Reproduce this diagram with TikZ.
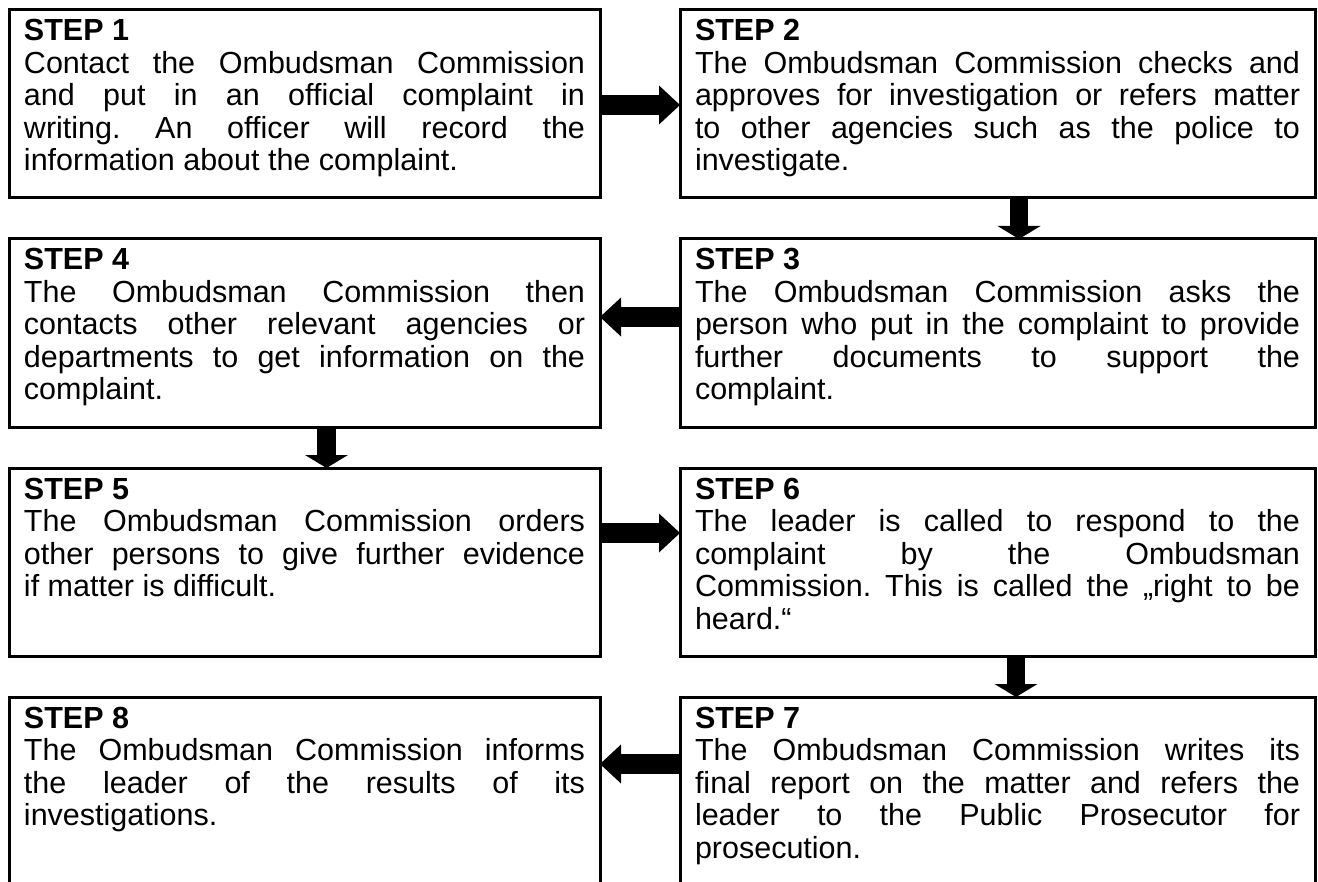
\documentclass[tikz,border=0pt]{standalone}
\usepackage{fontspec}
\setmainfont{Liberation Sans}
\usetikzlibrary{arrows.meta,positioning}
\tolerance=10000
\hyphenpenalty=10000
\hbadness=10000
\frenchspacing
\tikzset{
  stepbox/.style={draw=black,line width=1.2pt,outer sep=0pt,inner xsep=6pt,inner ysep=0pt,
    align=justify,text height=12.4pt,text depth=62.8pt,
    font=\fontsize{12.2pt}{13pt}\selectfont\frenchspacing},
  leftcol/.style={stepbox,text width=224.4pt},
  rightcol/.style={stepbox,text width=242pt},
  harrow/.style={-{Triangle[length=8.4pt,width=15.6pt,line width=0pt]},line width=8pt},
  varrow/.style={-{Triangle[length=5.2pt,width=17.2pt,line width=0pt]},line width=7.4pt}
}

\begin{document}
\begin{tikzpicture}
  \path[use as bounding box,clip] (0,0) rectangle (527.2pt,-352.8pt);

  \node[leftcol,anchor=north west] (s1) at (3.6pt,-4pt)
    {\textbf{STEP 1}\\Contact the Ombudsman Commission\linebreak and put in an official complaint in\linebreak writing. An officer will record the\linebreak information about the complaint.};
  \node[rightcol,right=32pt of s1.north east,anchor=north west] (s2)
    {\textbf{STEP 2}\\The Ombudsman Commission checks and\linebreak approves for investigation or refers matter\linebreak to other agencies such as the police to\linebreak investigate.};
  \node[rightcol,below=16.4pt of s2] (s3)
    {\textbf{STEP 3}\\The Ombudsman Commission asks the\linebreak person who put in the complaint to provide\linebreak further documents to support the\linebreak complaint.};
  \node[leftcol,below=16.4pt of s1] (s4)
    {\textbf{STEP 4}\\The Ombudsman Commission then\linebreak contacts other relevant agencies or\linebreak departments to get information on the\linebreak complaint.};
  \node[leftcol,below=16.4pt of s4] (s5)
    {\textbf{STEP 5}\\The Ombudsman Commission orders\linebreak other persons to give further evidence\linebreak if matter is difficult.};
  \node[rightcol,below=16.4pt of s3] (s6)
    {\textbf{STEP 6}\\The leader is called to respond to the\linebreak complaint by the Ombudsman\linebreak Commission. This is called the „right to be\linebreak heard.“};
  \node[rightcol,below=16.4pt of s6] (s7)
    {\textbf{STEP 7}\\The Ombudsman Commission writes its\linebreak final report on the matter and refers the\linebreak leader to the Public Prosecutor for\linebreak prosecution.};
  \node[leftcol,below=16.4pt of s5] (s8)
    {\textbf{STEP 8}\\The Ombudsman Commission informs\linebreak the leader of the results of its\linebreak investigations.};

  % flow between the steps
  \draw[harrow] ([yshift=-38pt]s1.north east) -- ([yshift=-38pt]s2.north west);
  \draw[varrow] ([xshift=8.6pt]s2.south) -- ([xshift=8.6pt]s3.north);
  \draw[harrow] ([yshift=-31.2pt]s3.north west) -- ([yshift=-31.2pt]s4.north east);
  \draw[varrow] ([xshift=8.8pt]s4.south) -- ([xshift=8.8pt]s5.north);
  \draw[harrow] ([yshift=-26pt]s5.north east) -- ([yshift=-26pt]s6.north west);
  \draw[varrow] ([xshift=7.4pt]s6.south) -- ([xshift=7.4pt]s7.north);
  \draw[harrow] ([yshift=-26.8pt]s7.north west) -- ([yshift=-26.8pt]s8.north east);
\end{tikzpicture}
\end{document}
